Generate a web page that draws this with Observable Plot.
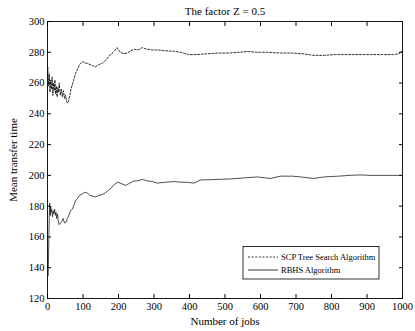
<!DOCTYPE html>
<html>
<head>
<meta charset="utf-8">
<script src="https://cdn.jsdelivr.net/npm/d3@7"></script>
<script src="https://cdn.jsdelivr.net/npm/@observablehq/plot@0.6"></script>
<style>
  html, body { margin: 0; padding: 0; background: #fff; }
  svg { font-family: "Liberation Serif", serif; }
</style>
</head>
<body>
<div id="chart"></div>
<script>
const title = "The factor Z = 0.5";
const xLabel = "Number of jobs";
const yLabel = "Mean transfer time";
const seriesNames = ["SCP Tree Search Algorithm", "RBHS Algorithm"];
const xTicks = [0, 100, 200, 300, 400, 500, 600, 700, 800, 900, 1000];
const yTicks = [120, 140, 160, 180, 200, 220, 240, 260, 280, 300];

const scpJobs = [1,3,5,7,9,11,13,15,17,19,21,23,25,27,29,31,33,36,39,42,45,48,51,54,57,60,63,66,70,75,80,85,90,95,100,105,110,120,130,135,145,155,165,175,185,196,205,215,225,235,245,255,267,280,295,310,330,355,375,397,420,450,480,510,540,562,590,620,656,690,720,750,780,810,844,880,910,940,975,990,1000];
const scpVals = [270,258,266,254,262,256,264,252,260,255,262,253,258,251,257,254,260,252,256,251,255,250,252,248,247,249,252,256,259,263,267,269,272,273,274,273,273,272,271,270.5,272,273,275,278,280,283,280,279,279.5,281,282,281.5,283,282,281.5,281.5,281,280.7,280,278.5,278.5,279,279.5,279.5,280,280.5,280,280,279.5,279.5,279,278,278,278.5,278.5,278.5,278.5,278.5,278.5,279,281];

const rbhsJobs = [2,3,4,5,6,7,8,9,10,12,14,16,18,20,22,24,26,28,30,33,36,40,44,48,52,56,60,65,70,75,80,85,90,98,105,112,120,128,135,145,159,170,177,188,198,210,220,232,243,255,267,280,295,309,330,355,375,395,413,431,460,490,516,550,591,610,628,656,690,713,750,779,820,850,881,910,938,970,1000];
const rbhsVals = [135,150,162,172,182,178,174,180,176,178,173,177,175,178,174,176,172,175,171,168,169,170,172,169,169.5,172,174,177,178,181,184,185,187,188,189,188.5,187,186.5,186,187,188,190,191.3,194,195.6,194.5,193.5,195,196.3,196.5,197.4,196.5,196,195,195.5,196,195.6,195.5,195,197,197.2,197.5,197.7,198.3,199,198.5,198,199.5,199.5,199,198,199,199.5,200,200.3,200,200,200,200];

const scp = scpJobs.map((x, i) => ({x, y: scpVals[i]}));
const rbhs = rbhsJobs.map((x, i) => ({x, y: rbhsVals[i]}));

const W = 415, H = 331;
const noText = () => "";
const chart = Plot.plot({
  width: W, height: H,
  marginLeft: 47, marginRight: 13, marginTop: 21, marginBottom: 33,
  style: {fontFamily: "Liberation Serif, serif", fontSize: "10.5px", background: "#fff", color: "#000"},
  x: {domain: [0, 1000], ticks: xTicks, label: null},
  y: {domain: [120, 300], ticks: yTicks, label: null},
  marks: [
    Plot.frame({stroke: "#000", strokeWidth: 0.9}),
    // inward ticks
    Plot.axisX(xTicks, {anchor: "bottom", tickSize: -4, tickFormat: noText, label: null, stroke: "#000"}),
    Plot.axisX(xTicks, {anchor: "top", tickSize: -4, tickFormat: noText, label: null, stroke: "#000"}),
    Plot.axisY(yTicks, {anchor: "left", tickSize: -4, tickFormat: noText, label: null, stroke: "#000"}),
    Plot.axisY(yTicks, {anchor: "right", tickSize: -4, tickFormat: noText, label: null, stroke: "#000"}),
    // labels
    Plot.axisX(xTicks, {anchor: "bottom", tickSize: 0, tickPadding: 4, label: null, tickFormat: d => String(d), fontSize: 10.5}),
    Plot.axisY(yTicks, {anchor: "left", tickSize: 0, tickPadding: 3, label: null, tickFormat: d => String(d), fontSize: 10.5}),
    Plot.lineY(scp, {x: "x", y: "y", stroke: "#000", strokeWidth: 0.8, strokeDasharray: "2,1.6"}),
    Plot.lineY(rbhs, {x: "x", y: "y", stroke: "#222", strokeWidth: 0.8})
  ]
});

const svg = d3.select(chart);
const addText = (x, y, size, txt, anchor) =>
  svg.append("text").attr("x", x).attr("y", y).attr("text-anchor", anchor)
    .attr("font-size", size).attr("fill", "#000").text(txt);
addText(225, 15, 11, title, "middle");
addText(225, 325, 11, xLabel, "middle");
svg.append("text").attr("transform", "translate(17,160) rotate(-90)").attr("text-anchor", "middle")
  .attr("font-size", 11).attr("fill", "#000").text(yLabel);
// legend
const lg = svg.append("g");
lg.append("rect").attr("x", 243).attr("y", 246.5).attr("width", 136).attr("height", 32.5)
  .attr("fill", "#fff").attr("stroke", "#000").attr("stroke-width", 0.8);
const rows = [{y: 257, dash: "2,1.6"}, {y: 270, dash: null}];
rows.forEach((r, i) => {
  const l = lg.append("line").attr("x1", 248).attr("x2", 278).attr("y1", r.y).attr("y2", r.y)
    .attr("stroke", "#000").attr("stroke-width", 0.8);
  if (r.dash) l.attr("stroke-dasharray", r.dash);
  lg.append("text").attr("x", 281).attr("y", r.y + 3).attr("text-anchor", "start")
    .attr("font-size", 8.5).attr("fill", "#000").text(seriesNames[i]);
});

document.getElementById("chart").appendChild(chart);
</script>
</body>
</html>
